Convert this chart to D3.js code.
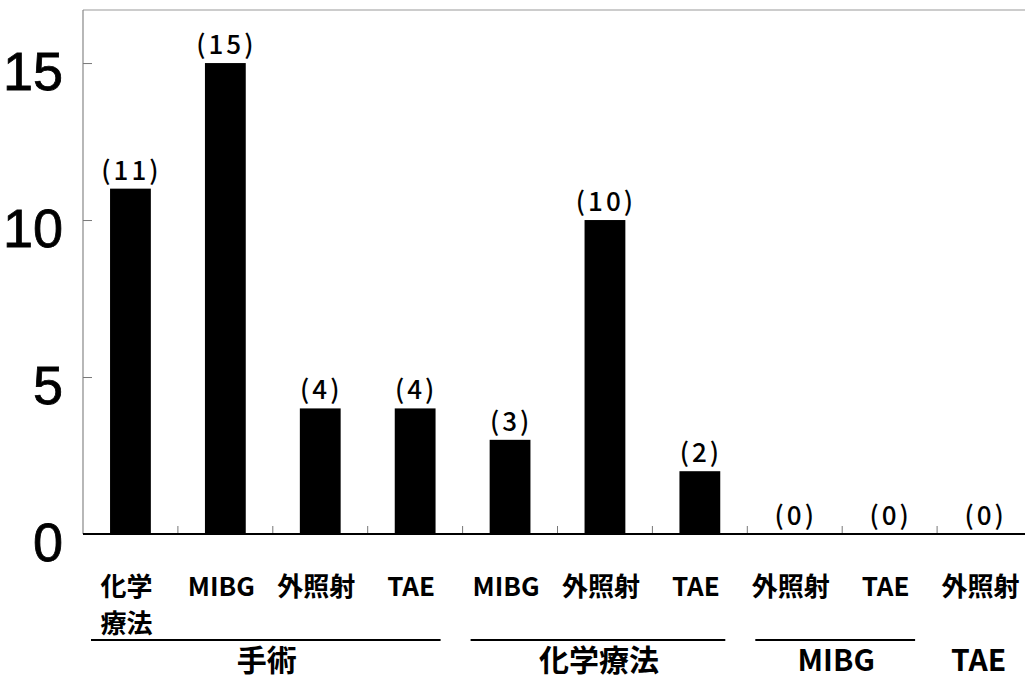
<!DOCTYPE html>
<html>
<head>
<meta charset="utf-8">
<script src="https://cdn.jsdelivr.net/npm/d3@7"></script>
<style>
  html, body { margin: 0; padding: 0; background: #fff; }
  svg { display: block; }
  text { font-family: "Noto Sans CJK JP", "Noto Sans", sans-serif; fill: #000; }
</style>
</head>
<body>
<svg id="chart" width="1025" height="679"></svg>
<script>
// Treatment combinations: first treatment (group) and the follow-up treatment (category)
const categories = ["化学療法", "MIBG", "外照射", "TAE", "MIBG", "外照射", "TAE", "外照射", "TAE", "外照射"];
const categoryLines = [["化学", "療法"], ["MIBG"], ["外照射"], ["TAE"], ["MIBG"], ["外照射"], ["TAE"], ["外照射"], ["TAE"], ["外照射"]];
const counts = [11, 15, 4, 4, 3, 10, 2, 0, 0, 0];
const groups = ["手術", "化学療法", "MIBG", "TAE"];
const groupSizes = [4, 3, 2, 1];
const groupUnderline = [true, true, true, false];
const yTicks = [0, 5, 10, 15];

const svg = d3.select("#chart");
const margin = { left: 83, top: 10, bottom: 534 };
const step = 94.9;
const plotRight = margin.left + step * categories.length;

const x = d3.scaleBand()
  .domain(d3.range(categories.length))
  .range([margin.left, plotRight])
  .paddingInner(0.57)
  .paddingOuter(0.285);

const y = d3.scaleLinear()
  .domain([0, 16.69])
  .range([margin.bottom, margin.top]);

// frame: top and left in light grey
svg.append("line")
  .attr("x1", margin.left).attr("x2", 1025)
  .attr("y1", y(16.69)).attr("y2", y(16.69))
  .attr("stroke", "#999").attr("stroke-width", 1.2);
svg.append("line")
  .attr("x1", margin.left).attr("x2", margin.left)
  .attr("y1", y(16.69)).attr("y2", y(0))
  .attr("stroke", "#888").attr("stroke-width", 1.2);

// y axis ticks point inward
const yAxis = d3.axisRight(y).tickValues(yTicks).tickSize(9).tickFormat("");
const yg = svg.append("g").attr("transform", `translate(${margin.left},0)`).call(yAxis);
yg.select(".domain").remove();
yg.selectAll(".tick line").attr("stroke", "#777").attr("stroke-width", 1);

// y tick labels
svg.append("g").selectAll("text")
  .data(yTicks)
  .join("text")
  .attr("x", 63)
  .attr("y", d => y(d) + 27)
  .attr("text-anchor", "end")
  .style("font-family", "'Liberation Sans', Arial, sans-serif")
  .style("font-size", "54px")
  .style("stroke", "#000")
  .style("stroke-width", "0.8px")
  .text(d => d);

// bars
svg.append("g").selectAll("rect")
  .data(counts)
  .join("rect")
  .attr("x", (d, i) => x(i))
  .attr("width", x.bandwidth())
  .attr("y", d => y(d))
  .attr("height", d => y(0) - y(d))
  .attr("fill", "#000");

// category boundary ticks on the baseline
const bounds = d3.range(1, categories.length + 1).map(i => margin.left + step * i);
svg.append("g").selectAll("line")
  .data(bounds)
  .join("line")
  .attr("x1", d => d).attr("x2", d => d)
  .attr("y1", y(0)).attr("y2", y(0) - 8)
  .attr("stroke", "#777").attr("stroke-width", 1);

// baseline
svg.append("line")
  .attr("x1", margin.left).attr("x2", 1025)
  .attr("y1", y(0)).attr("y2", y(0))
  .attr("stroke", "#000").attr("stroke-width", 2);

// value labels
svg.append("g").selectAll("text")
  .data(counts)
  .join("text")
  .attr("x", (d, i) => x(i) + x.bandwidth() / 2 + 1)
  .attr("y", d => y(d) - 9)
  .attr("text-anchor", "middle")
  .style("font-size", "26px")
  .style("font-weight", "500")
  .style("letter-spacing", "3px")
  .text(d => `(${d})`);

// category labels
const catG = svg.append("g").selectAll("text")
  .data(categoryLines)
  .join("text")
  .attr("text-anchor", "middle")
  .style("font-size", "26px")
  .style("font-weight", "bold");
catG.each(function (lines, i) {
  const t = d3.select(this);
  const cx = x(i) + x.bandwidth() / 2 - 4;
  lines.forEach((ln, k) => {
    t.append("tspan").attr("x", cx).attr("y", 596 + k * 37).text(ln);
  });
});

// group underlines and labels
let start = 0;
const groupInfo = groups.map((g, gi) => {
  const s = margin.left + step * start;
  const e = margin.left + step * (start + groupSizes[gi]);
  start += groupSizes[gi];
  return { name: g, s, e, line: groupUnderline[gi] };
});

svg.append("g").selectAll("line")
  .data(groupInfo.filter(d => d.line))
  .join("line")
  .attr("x1", d => d.s + 8).attr("x2", d => d.e - 22)
  .attr("y1", 640).attr("y2", 640)
  .attr("stroke", "#000").attr("stroke-width", 2);

svg.append("g").selectAll("text")
  .data(groupInfo)
  .join("text")
  .attr("x", d => (d.s + d.e) / 2 - 6)
  .attr("y", 671)
  .attr("text-anchor", "middle")
  .style("font-size", "30px")
  .style("font-weight", "bold")
  .text(d => d.name);
</script>
</body>
</html>
